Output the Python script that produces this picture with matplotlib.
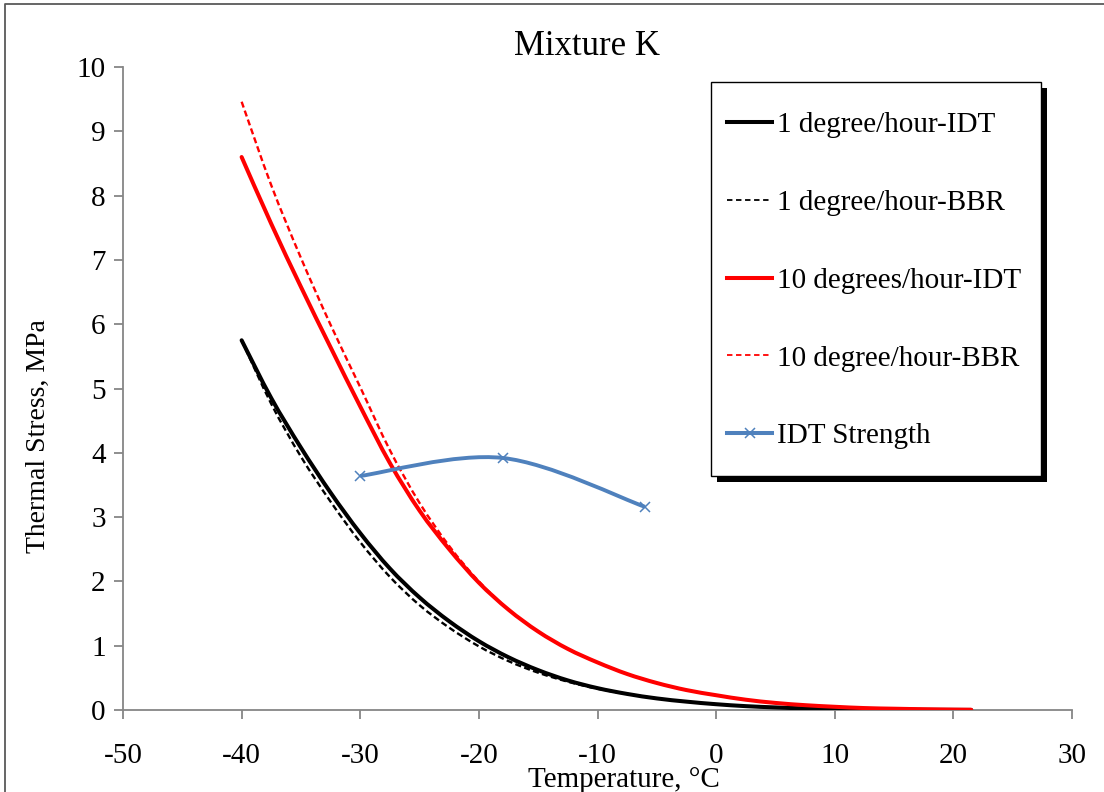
import numpy as np
import matplotlib
matplotlib.use("Agg")
import matplotlib.pyplot as plt
from matplotlib.path import Path
from matplotlib.patches import PathPatch, Rectangle
from matplotlib.lines import Line2D

# ---------------- data ----------------
temp = [-40, -37.5, -35, -32.5, -30, -27.5, -25, -22.5, -20, -17.5, -15, -12.5,
        -10, -7.5, -5, -2.5, 0, 2.5, 5, 7.5, 10, 12.5, 15, 17.5, 20, 21.5]

stress_1_idt = [5.75, 4.85, 4.08, 3.38, 2.75, 2.20, 1.75, 1.38, 1.07, 0.82, 0.62, 0.46,
                0.34, 0.25, 0.18, 0.13, 0.09, 0.06, 0.04, 0.025, 0.015, 0.009, 0.005,
                0.003, 0.002, 0.001]
stress_1_bbr = [5.75, 4.76, 3.94, 3.24, 2.61, 2.07, 1.63, 1.28, 0.99, 0.76, 0.58, 0.44,
                0.33, 0.25, 0.18, 0.13, 0.09, 0.06, 0.04, 0.025, 0.015, 0.009, 0.005,
                0.003, 0.002, 0.001]
stress_10_idt = [8.60, 7.56, 6.58, 5.64, 4.72, 3.84, 3.10, 2.50, 1.98, 1.56, 1.22, 0.95,
                 0.74, 0.56, 0.42, 0.31, 0.23, 0.16, 0.11, 0.075, 0.05, 0.03, 0.02,
                 0.012, 0.006, 0.004]
stress_10_bbr = [9.46, 8.16, 7.03, 5.99, 5.02, 4.04, 3.22, 2.55, 2.00, 1.56, 1.22, 0.95,
                 0.74, 0.56, 0.42, 0.31, 0.23, 0.16, 0.11, 0.075, 0.05, 0.03, 0.02,
                 0.012, 0.006, 0.004]

idt_temp = [-30, -18, -6]
idt_strength = [3.64, 3.92, 3.16]

labels = ["1 degree/hour-IDT", "1 degree/hour-BBR", "10 degrees/hour-IDT",
          "10 degree/hour-BBR", "IDT Strength"]

x_ticks = [-50, -40, -30, -20, -10, 0, 10, 20, 30]
y_ticks = [0, 1, 2, 3, 4, 5, 6, 7, 8, 9, 10]

# ---------------- style ----------------
plt.rcParams["font.family"] = ["Liberation Serif", "DejaVu Serif"]
plt.rcParams["axes.unicode_minus"] = False

BLUE = "#4F81BD"
GRAY = "#868686"
W, H = 1104, 792

fig = plt.figure(figsize=(W / 100, H / 100), dpi=100)
ax = fig.add_axes([123 / W, 1 - 710 / H, 949 / W, 643 / H])


def fx(x):
    return x / W


def fy(y):
    return 1 - y / H


def smooth_path(xs, ys):
    """Excel-like smoothed line through the data points (cubic Bezier segments)."""
    P = np.column_stack([xs, ys]).astype(float)
    n = len(P)
    verts = [P[0]]
    codes = [Path.MOVETO]
    for i in range(n - 1):
        p0 = P[i - 1] if i > 0 else P[i]
        p1 = P[i]
        p2 = P[i + 1]
        p3 = P[i + 2] if i + 2 < n else P[i + 1]
        verts += [p1 + (p2 - p0) / 6, p2 - (p3 - p1) / 6, p2]
        codes += [Path.CURVE4] * 3
    return Path(verts, codes)


def smooth_line(xs, ys, **kw):
    patch = PathPatch(smooth_path(xs, ys), facecolor="none", **kw)
    ax.add_patch(patch)
    return patch


solid_lw = 2.9
dash_lw = 1.7
dash_style = (0, (2.6, 1.4))

smooth_line(temp, stress_1_idt, edgecolor="black", lw=solid_lw, capstyle="round", zorder=3)
smooth_line(temp, stress_1_bbr, edgecolor="black", lw=dash_lw, linestyle=dash_style, zorder=3)
smooth_line(temp, stress_10_idt, edgecolor="red", lw=solid_lw, capstyle="round", zorder=4)
smooth_line(temp, stress_10_bbr, edgecolor="red", lw=dash_lw, linestyle=dash_style, zorder=4)
smooth_line(idt_temp, idt_strength, edgecolor=BLUE, lw=2.8, zorder=5)
ax.plot(idt_temp, idt_strength, linestyle="none", marker="x", color=BLUE,
        markersize=6.5, markeredgewidth=1.1, zorder=6)

ax.set_xlim(-50, 30)
ax.set_ylim(0, 10)
ax.set_xticks(x_ticks)
ax.set_yticks(y_ticks)
ax.set_xticklabels([str(v) for v in x_ticks])
ax.set_yticklabels([str(v) for v in y_ticks])
for s in ["top", "right"]:
    ax.spines[s].set_visible(False)
for s in ["left", "bottom"]:
    ax.spines[s].set_color(GRAY)
    ax.spines[s].set_linewidth(1.3)
ax.tick_params(axis="both", direction="out", color=GRAY, width=1.3, length=6.5,
               labelsize=21, labelcolor="black")
ax.tick_params(axis="x", pad=17)
ax.tick_params(axis="y", pad=6)
ax.patch.set_alpha(0)

# titles and labels
fig.text(fx(587), fy(55), "Mixture K", ha="center", va="baseline", fontsize=25)
fig.text(fx(38), fy(436), "Thermal Stress, MPa", ha="center", va="center",
         rotation=90, fontsize=20)
fig.text(fx(624), fy(787), "Temperature, °C", ha="center", va="baseline", fontsize=21)

# figure border (top and left visible)
fig.add_artist(Line2D([fx(5), fx(5), fx(1110)], [fy(800), fy(4), fy(4)],
                      transform=fig.transFigure, color="#595959", lw=1.3))

# legend box with shadow
bx0, by0, bx1, by1 = 711, 82, 1041, 476
off = 6
fig.add_artist(Rectangle((fx(bx0 + off), fy(by1 + off)), (bx1 - bx0) / W, (by1 - by0) / H,
                         transform=fig.transFigure, facecolor="black", edgecolor="black",
                         lw=0, zorder=2))
fig.add_artist(Rectangle((fx(bx0), fy(by1)), (bx1 - bx0) / W, (by1 - by0) / H,
                         transform=fig.transFigure, facecolor="white", edgecolor="black",
                         lw=1.0, zorder=3))

handles = [
    Line2D([], [], color="black", lw=2.9),
    Line2D([], [], color="black", lw=1.3, linestyle=(0, (3, 2))),
    Line2D([], [], color="red", lw=2.9),
    Line2D([], [], color="red", lw=1.3, linestyle=(0, (3, 2))),
    Line2D([], [], color=BLUE, lw=2.9, marker="x", markersize=6.5, markeredgewidth=1.1),
]
leg = fig.legend(handles, labels, loc="upper left",
                 bbox_to_anchor=(fx(727), fy(112)), bbox_transform=fig.transFigure,
                 frameon=False, fontsize=21, handlelength=1.55, handletextpad=0.18,
                 labelspacing=1.76, borderpad=0, borderaxespad=0)
leg.set_zorder(10)

fig.savefig("out.png", dpi=100)
